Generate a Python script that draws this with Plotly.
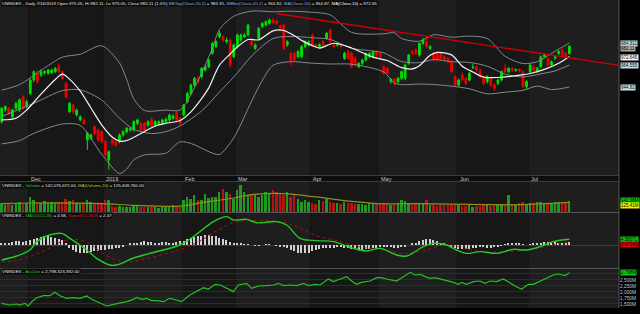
import plotly.graph_objects as go

# ---------------- data ----------------
tick_idx = [8, 29, 51, 66, 87, 106, 128, 148]
tick_text = ["Dec", "2019", "Feb", "Mar", "Apr", "May", "Jun", "Jul"]
month_starts = [0, 8, 29, 51, 66, 87, 106, 128, 148]

opens = [913.2, 924.0, 925.4, 917.8, 925.4, 923.9, 936.0, 926.9, 939.0, 951.2,
         957.3, 955.8, 957.8, 957.3, 958.0, 958.8, 963.3, 958.8, 948.2, 922.3,
         928.4, 919.3, 914.8, 914.8, 896.5, 898.0, 908.7, 905.6, 904.1, 895.0,
         878.3, 896.5, 895.0, 895.0, 901.1, 904.1, 905.6, 905.6, 911.7, 911.7,
         911.7, 910.2, 915.4, 910.2, 911.7, 911.7, 912.9, 914.8, 916.3, 921.4,
         916.3, 919.3, 931.5, 939.0, 946.6, 952.7, 954.2, 960.3, 963.3, 975.5,
         981.6, 990.7, 990.7, 986.1, 987.6, 972.4, 981.6, 987.6, 990.7, 992.2,
         986.1, 980.0, 989.2, 999.8, 1001.3, 1002.8, 1005.9, 1005.0, 1000.4, 1001.3,
         983.1, 975.5, 975.5, 972.4, 972.4, 981.6, 983.1, 992.2, 983.1, 981.6,
         986.1, 989.2, 996.8, 983.1, 983.1, 983.1, 970.9, 977.0, 975.5, 970.9,
         963.3, 966.4, 969.4, 972.4, 972.4, 977.0, 975.5, 963.3, 961.8, 949.7,
         951.8, 949.7, 952.7, 952.7, 966.4, 977.0, 978.5, 974.0, 984.6, 986.1,
         980.0, 975.5, 975.5, 975.5, 972.4, 970.9, 967.9, 954.2, 946.6, 955.8,
         952.7, 951.2, 962.4, 963.3, 960.3, 952.7, 949.7, 952.7, 946.6, 948.2,
         951.2, 961.8, 958.8, 961.8, 960.0, 960.8, 958.8, 945.1, 958.8, 963.3,
         958.8, 963.3, 972.4, 970.9, 964.9, 971.0, 975.5, 978.5, 975.5, 975.05]
highs = [926.5, 928.0, 926.8, 925.0, 931.5, 934.5, 937.5, 933.0, 952.5, 960.0,
         960.5, 961.0, 960.0, 961.5, 961.5, 963.0, 966.0, 960.0, 949.5, 931.0,
         929.5, 925.0, 919.0, 916.0, 904.0, 902.5, 910.0, 907.0, 905.5, 896.5,
         887.0, 898.0, 896.5, 902.5, 905.5, 908.5, 908.5, 914.5, 916.0, 913.0,
         913.0, 914.5, 917.0, 914.5, 914.5, 916.0, 917.0, 920.5, 920.0, 923.0,
         917.5, 929.5, 940.5, 948.0, 954.0, 955.0, 963.0, 964.5, 970.5, 986.0,
         987.5, 996.0, 992.0, 990.0, 989.0, 984.5, 993.5, 993.5, 994.0, 1002.5,
         988.0, 984.5, 999.5, 1004.0, 1005.5, 1007.0, 1007.5, 1006.5, 1001.5, 1002.5,
         987.5, 977.0, 977.0, 978.5, 983.0, 987.5, 987.5, 993.5, 984.5, 984.5,
         987.5, 995.0, 998.0, 984.5, 985.5, 984.0, 977.0, 978.5, 977.0, 972.5,
         967.5, 970.5, 976.5, 976.5, 978.0, 978.5, 977.0, 964.5, 963.0, 953.0,
         953.0, 954.0, 960.0, 966.0, 975.0, 978.5, 980.0, 985.5, 989.5, 990.0,
         983.0, 977.0, 977.0, 977.0, 974.0, 972.0, 969.0, 955.5, 952.5, 958.0,
         954.0, 958.5, 966.0, 964.5, 961.5, 954.0, 955.5, 954.0, 948.0, 952.5,
         960.0, 966.0, 963.0, 963.0, 961.5, 962.0, 960.0, 951.0, 966.0, 964.5,
         963.0, 973.5, 975.5, 972.0, 969.0, 973.5, 978.5, 980.0, 977.0, 982.11]
lows = [911.5, 922.5, 919.5, 916.0, 924.0, 922.0, 924.0, 925.5, 937.5, 949.5,
        947.5, 954.0, 956.0, 956.0, 956.5, 957.5, 957.5, 951.0, 934.5, 921.0,
        920.5, 918.0, 913.5, 910.0, 887.4, 896.5, 901.0, 895.0, 893.5, 881.0,
        869.2, 891.5, 890.0, 893.5, 899.5, 902.5, 904.0, 904.0, 910.0, 904.0,
        904.0, 908.5, 907.5, 908.5, 910.0, 910.0, 911.5, 913.0, 915.0, 913.5,
        910.0, 918.0, 930.0, 937.5, 945.0, 948.0, 952.5, 959.0, 962.0, 974.0,
        980.0, 989.0, 986.0, 984.5, 962.5, 971.0, 980.0, 986.0, 989.5, 991.0,
        981.5, 978.5, 988.0, 998.5, 1000.0, 1001.5, 1002.0, 1001.5, 998.0, 978.5,
        981.5, 964.5, 968.0, 971.0, 971.0, 980.0, 982.0, 982.0, 980.0, 980.5,
        982.0, 988.0, 985.0, 980.0, 981.5, 980.0, 969.5, 969.5, 962.0, 963.5,
        962.0, 965.0, 968.0, 971.0, 971.0, 972.5, 971.0, 956.0, 956.0, 948.0,
        946.0, 948.0, 951.0, 951.0, 965.0, 974.0, 974.0, 972.5, 983.0, 980.0,
        978.5, 968.0, 968.0, 969.5, 968.0, 966.5, 957.5, 945.0, 945.0, 950.0,
        946.5, 950.0, 961.0, 958.5, 952.5, 946.5, 948.0, 945.0, 941.5, 946.5,
        950.0, 957.5, 957.5, 958.5, 958.5, 958.0, 943.5, 943.0, 957.5, 958.5,
        957.5, 962.0, 971.0, 963.5, 963.5, 969.5, 974.0, 972.5, 971.0, 975.05]
closes = [925.4, 927.0, 920.8, 923.9, 929.9, 933.0, 925.4, 931.4, 951.2, 958.8,
          949.7, 958.8, 958.9, 960.3, 960.3, 961.8, 958.8, 952.7, 936.0, 929.9,
          922.3, 923.9, 917.8, 911.7, 902.6, 901.1, 902.6, 896.5, 895.0, 882.9,
          885.9, 893.5, 892.0, 901.1, 904.1, 907.2, 907.2, 913.2, 914.8, 905.6,
          905.6, 913.2, 909.3, 913.2, 913.2, 914.8, 915.4, 919.3, 918.4, 914.8,
          911.7, 928.4, 939.0, 946.6, 952.7, 949.7, 961.8, 963.3, 969.4, 984.6,
          986.1, 993.7, 987.6, 987.6, 964.9, 983.1, 992.2, 992.2, 992.2, 1001.3,
          983.1, 983.1, 998.3, 1002.8, 1004.3, 1005.9, 1003.4, 1002.8, 999.2, 980.0,
          986.1, 967.9, 969.4, 977.0, 981.6, 986.1, 986.1, 983.1, 981.6, 983.6,
          983.1, 993.7, 986.1, 981.6, 984.6, 981.6, 975.5, 970.9, 963.3, 964.9,
          966.4, 969.4, 975.5, 975.5, 977.0, 974.0, 972.4, 957.3, 957.3, 951.8,
          948.2, 952.7, 958.8, 964.9, 974.0, 975.5, 975.5, 984.6, 987.6, 981.6,
          981.6, 969.4, 969.4, 971.0, 969.4, 967.9, 958.8, 946.6, 951.2, 951.2,
          948.2, 957.3, 962.9, 960.3, 954.2, 948.2, 954.2, 946.6, 943.6, 951.2,
          958.8, 958.8, 961.8, 960.3, 960.8, 959.5, 945.1, 949.7, 964.9, 960.3,
          961.8, 972.4, 974.0, 964.9, 967.9, 972.4, 977.0, 974.0, 972.4, 982.11]

ma10_x = [0, 4, 7, 11, 15, 17, 19, 22, 25, 28, 31, 33, 35, 39, 43, 46, 50, 53, 56, 58,
          61, 64, 66, 69, 72, 76, 79, 82, 84, 87, 89, 93, 98, 104, 108, 112, 115, 117, 120, 122,
          126, 129, 132, 135, 140, 145, 148, 152, 156, 159]
ma10_y = [914.8, 916.3, 923.9, 938.3, 951.7, 956.5, 952.0, 941.0, 925.7, 910.3,
          899.0, 895.5, 896.1, 902.5, 909.3, 911.8, 914.3, 922.2, 934.2, 944.0,
          964.7, 974.9, 981.3, 988.1, 987.8, 996.0, 996.3, 991.5, 987.3, 982.5,
          980.3, 984.7, 980.4, 972.0, 969.0, 962.5, 961.3, 964.3, 973.7, 976.4,
          974.1, 963.7, 958.5, 953.9, 953.7, 955.6, 957.1, 960.9, 966.5, 972.65]

bbm_x = [0, 9, 17, 22, 28, 33, 37, 42, 46, 50, 56, 61, 65, 70, 76, 81, 87, 92, 98, 103,
         107, 112, 117, 121, 126, 131, 136, 141, 146, 151, 155, 159]
bbm_y = [918.0, 930.0, 941.5, 942.2, 933.0, 916.4, 906.3, 902.4, 904.2, 909.4,
         923.0, 940.3, 953.9, 973.0, 989.0, 990.9, 989.7, 988.2, 980.1, 978.0,
         975.9, 968.0, 967.0, 969.8, 967.9, 967.2, 963.8, 956.5, 954.0, 956.8,
         959.5, 964.87]

bbt_x = [0, 5, 11, 17, 22, 28, 33, 35, 37, 40, 46, 50, 54, 59, 61, 65, 70, 76, 81, 87,
         92, 98, 107, 110, 112, 117, 121, 126, 131, 136, 141, 146, 150, 154, 159]
bbt_y = [942.0, 947.0, 960.0, 972.0, 974.7, 982.4, 966.8, 951.7, 934.1, 923.4,
         923.8, 923.9, 944.2, 979.8, 997.3, 1009.3, 1014.0, 1013.4, 1013.9, 1012.9,
         1010.6, 994.6, 993.3, 994.3, 989.0, 986.5, 992.5, 990.2, 991.2, 989.0,
         972.8, 966.2, 967.9, 975.5, 984.91]

bbb_x = [0, 5, 9, 17, 22, 28, 33, 35, 37, 40, 46, 50, 54, 56, 59, 61, 65, 70, 73, 76,
         81, 87, 92, 98, 107, 110, 112, 117, 121, 126, 131, 136, 141, 146, 150, 154, 159]
bbb_y = [893.0, 896.0, 902.6, 911.1, 909.8, 883.6, 866.0, 870.1, 878.5, 883.0,
         884.6, 894.9, 892.2, 889.0, 884.6, 883.3, 898.5, 932.0, 950.9, 964.6,
         967.9, 966.5, 965.8, 965.6, 958.5, 948.4, 947.0, 947.5, 947.1, 945.6,
         943.2, 938.6, 940.1, 941.8, 945.7, 942.5, 944.82]

trend_x = [77, 172.9]
trend_y = [1011.8, 964.6]

volume_m = [110, 95, 120, 90, 105, 125, 100, 115,
            200, 150, 135, 120, 140, 110, 125, 115, 130, 120, 172, 140, 150, 110, 100, 120, 160, 125, 115, 105, 120,
            160, 150, 75, 70, 80, 65, 60, 70, 85, 80, 65, 70, 60, 75, 70, 55, 65, 70, 80, 90, 75, 70,
            150, 194, 172, 215, 160, 150, 237, 180, 194, 200, 258, 301, 258, 230, 172,
            280, 344, 258, 215, 237, 215, 194, 220, 258, 237, 280, 258, 237, 215, 258, 194, 215, 172, 129, 150, 129,
            120, 108, 150, 140, 172, 130, 120, 110, 108, 129, 120, 115, 108, 100, 100, 95, 110, 105, 100,
            105, 115, 108, 95, 100, 110, 150, 140, 120, 110, 100, 115, 105, 150, 90, 85, 80, 95, 85, 90, 85, 100,
            95, 80, 75, 85, 70, 80, 75, 90, 85, 80, 95, 90, 100, 85, 215, 100, 95, 110, 130, 105,
            120, 110, 130, 125, 115, 120, 110, 125, 130, 120, 135, 142.08]
vma_x = [0, 9, 28, 37, 50, 56, 65, 70, 79, 88, 98, 105, 117, 135, 145, 159]
vma_y = [108, 116, 108, 86, 77, 120, 181, 224, 237, 194, 138, 108, 108, 95, 95, 125.41]

macd_x = [0, 4.2, 7.9, 9.8, 12.6, 16.8, 19.1, 23.8, 26.6, 30.3, 32.2, 36.9, 41.5, 49.9, 53.7,
          59.3, 63.0, 64.9, 68.6, 71.4, 77.0, 79.8, 83.6, 88.2, 92.9, 98.5, 102.2, 106.0,
          110.6, 113.4, 118.1, 120.9, 124.6, 127.4, 130.2, 134.0, 138.6, 143.3, 147.0,
          150.8, 154.5, 159]
macd_y = [-12.0, -8.8, -4.0, 2.7, 7.2, 9.3, 5.3, -4.0, -10.7, -16.0, -16.0, -10.4, -6.7,
          0.0, 6.7, 18.7, 22.7, 20.0, 20.5, 17.8, 18.7, 16.0, 5.3, 3.5, 2.7, -2.7, -4.8,
          -2.7, -8.0, -8.8, -1.3, 1.3, 0.0, -4.0, -6.7, -5.3, -6.7, -3.5, -4.0, -1.3, 2.7, 4.58]
sig_x = [0, 4, 9, 13, 17, 20, 24, 28, 32, 36, 40, 44, 48, 52, 56, 60, 64, 68, 72, 76, 80,
         84, 88, 95, 100, 107, 113, 119, 124, 128, 134, 141, 148, 154, 159]
sig_y = [-13.5, -12.5, -8.0, -3.0, 3.0, 4.5, 2.0, -6.0, -12.0, -13.5, -11.0, -8.5, -5.5,
         -1.5, 4.0, 11.0, 17.0, 19.5, 19.5, 19.0, 17.5, 13.0, 7.5, 2.7, -1.3, -4.0, -6.7,
         -4.0, 0.0, -1.3, -5.3, -5.3, -3.5, 0.0, 2.47]
hist = [1.5, 2, 2, 2.5, 3, 3, 2.5, 3, 4,
        5, 6, 6.5, 7, 7, 6.5, 6, 5, 4,
        1, -2, -4, -5.5, -6.5, -6.5, -6, -5.5, -5, -4.5,
        -4, -4, -3.5, -3, -2.5, -2, -1, 0,
        1, 1.5, 2, 2.5, 3, 2.5, 2.5, 2, 2, 2.5, 2.5, 2, 2, 2.5, 3,
        3.5, 4.5, 5.5, 6.5, 7, 7.5, 8, 8, 7.5, 7, 6, 5, 4, 2.5, 1.5,
        1, 1, 0.5, 0.5, 0, -0.5, -0.5, 0, 0.5, 0.5, 0, -0.5, -1, -1.5,
        -2.5, -4, -5, -6, -6.5, -6.5, -6, -5, -4,
        -3, -2.5, -2, -2, -2, -1.5, -1.5, -2, -2.5, -3,
        -3.5, -4, -4, -3.5, -3, -2.5, -2,
        -1.5, -1.5, -1, -1.5, -2, -2, -1.5, -1, 0, 1, 2,
        3, 4, 4.5, 4.5, 4, 3, 2,
        1, 0, -1,
        -2, -3, -3.5, -3.5, -3, -2.5, -2, -1.5, -1.5, -2, -2, -1.5, -1,
        -0.5, 0.5, 1, 1.5, 1.5, 1, 0.5, 0, 0.5,
        1, 1.5, 2, 2.5, 2.5, 2.5, 2.5, 2, 2, 2, 2.11]

ad_x = [0, 1.4, 2.3, 4.2, 5.1, 6.5, 7.5, 8.4, 9.8, 11.7, 13.5, 14.9, 16.3, 18.2, 20.1, 21.9,
        23.8, 25.2, 27.5, 29.4, 31.3, 33.1, 35.0, 36.9, 37.8, 39.2, 40.6, 42.0, 43.4, 45.3,
        47.1, 49.0, 50.4, 52.7, 54.6, 56.5, 57.9, 59.7, 61.2, 64.0, 64.9, 66.3, 68.6, 70.0,
        71.9, 74.2, 76.1, 77.5, 78.9, 80.8, 82.6, 84.5, 85.9, 87.8, 89.2, 91.5, 92.9, 94.8,
        96.6, 98.0, 99.4, 100.8, 103.2, 105.0, 106.4, 107.8, 110.6, 112.5, 114.4, 115.8,
        117.2, 118.6, 120.0, 121.4, 122.8, 124.6, 126.5, 127.9, 128.8, 130.2, 132.1, 134.0,
        135.4, 136.8, 138.6, 140.5, 142.4, 144.2, 145.6, 147.5, 148.9, 150.8, 152.6, 154.5,
        155.9, 157.8, 159.0]
ad_y = [1529, 1487, 1458, 1500, 1458, 1529, 1417, 1596, 1763, 1846, 1846, 1986, 1846, 1736,
        1763, 1736, 1833, 1694, 1529, 1417, 1487, 1529, 1596, 1694, 1778, 1694, 1736, 1639,
        1639, 1596, 1736, 1667, 1596, 1875, 2014, 2181, 2111, 2319, 2292, 2083, 2014, 2292,
        2361, 2153, 2250, 2264, 2292, 2361, 2264, 2292, 2264, 2361, 2264, 2319, 2292, 2542,
        2431, 2542, 2639, 2458, 2319, 2403, 2458, 2597, 2597, 2542, 2458, 2639, 2819, 2708,
        2736, 2639, 2569, 2597, 2542, 2500, 2403, 2319, 2403, 2319, 2431, 2458, 2361, 2458,
        2431, 2542, 2361, 2222, 2111, 2319, 2319, 2458, 2597, 2708, 2750, 2681, 2798.32]
ad_ticks = [1500, 1750, 2000, 2250, 2500, 2750]
ad_ticktext = ["1,500M", "1,750M", "2,000M", "2,250M", "2,500M", ""]

# ---------------- styling ----------------
W, H = 640, 314
def fy(px):
    return 1 - px / H

XR = [-0.476, 172.9]
XD = 619 / W
UP, DN = "#00e000", "#ee0000"
VUP, VDN = "#1f9a1f", "#b41414"
BB = "#7d8c8c"
FONT = "Liberation Sans, Arial, sans-serif"

days = list(range(len(closes)))
vol_colors = [VUP if c >= o else VDN for o, c in zip(opens, closes)]

fig = go.Figure()
for bx, by in [(bbt_x, bbt_y), (bbm_x, bbm_y), (bbb_x, bbb_y)]:
    fig.add_trace(go.Scatter(x=bx, y=by, mode="lines", line=dict(color=BB, width=1, shape="spline", smoothing=0.8),
                             xaxis="x", yaxis="y", hoverinfo="skip"))
fig.add_trace(go.Candlestick(x=days, open=opens, high=highs, low=lows, close=closes,
                             increasing=dict(line=dict(color=UP, width=1), fillcolor=UP),
                             decreasing=dict(line=dict(color=DN, width=1), fillcolor=DN),
                             whiskerwidth=0, xaxis="x", yaxis="y", hoverinfo="skip"))
fig.add_trace(go.Scatter(x=ma10_x, y=ma10_y, mode="lines", line=dict(color="#f2f2f2", width=1.2, shape="spline", smoothing=0.8),
                         xaxis="x", yaxis="y", hoverinfo="skip"))
fig.add_trace(go.Scatter(x=trend_x, y=trend_y, mode="lines", line=dict(color="#d00000", width=1.3),
                         xaxis="x", yaxis="y", hoverinfo="skip"))

# volume
fig.add_trace(go.Bar(x=days, y=volume_m, marker=dict(color=vol_colors, line=dict(width=0)), width=0.55,
                     xaxis="x", yaxis="y2", hoverinfo="skip"))
fig.add_trace(go.Scatter(x=vma_x, y=vma_y, mode="lines", line=dict(color="#8f8f1c", width=1.2, shape="spline"),
                         xaxis="x", yaxis="y2", hoverinfo="skip"))

# MACD
fig.add_trace(go.Bar(x=days, y=hist, marker=dict(color="#cfcfcf", line=dict(width=0)), width=0.4,
                     xaxis="x", yaxis="y3", hoverinfo="skip"))
fig.add_trace(go.Scatter(x=sig_x, y=sig_y, mode="lines", line=dict(color="#b01010", width=1, dash="dot", shape="spline"),
                         xaxis="x", yaxis="y3", hoverinfo="skip"))
fig.add_trace(go.Scatter(x=macd_x, y=macd_y, mode="lines", line=dict(color="#22cc22", width=1.4, shape="spline"),
                         xaxis="x", yaxis="y3", hoverinfo="skip"))

# AccDist
fig.add_trace(go.Scatter(x=ad_x, y=ad_y, mode="lines", line=dict(color="#22c322", width=1.2),
                         xaxis="x", yaxis="y4", hoverinfo="skip"))

# ---------------- shapes ----------------
shapes = []
band_cols = ["#1e1e1e", "#171717"]
edges = [s - 0.5 for s in month_starts] + [XR[1]]
edges[0] = XR[0]
for k in range(len(month_starts)):
    col = band_cols[k % 2]
    for yr in ["y domain", "y2 domain", "y3 domain", "y4 domain"]:
        shapes.append(dict(type="rect", xref="x", yref=yr, x0=edges[k], x1=edges[k + 1], y0=0, y1=1,
                           fillcolor=col, line=dict(width=0), layer="below"))
shapes.append(dict(type="rect", xref="paper", yref="paper", x0=0, x1=XD, y0=fy(182), y1=fy(175),
                   fillcolor="#0d0d0d", line=dict(width=0), layer="below"))
for ypx_, c in [(175.5, "#3c3c3c"), (181.5, "#3c3c3c"), (212.5, "#555555"), (268.5, "#555555")]:
    shapes.append(dict(type="line", xref="paper", yref="paper", x0=0, x1=XD, y0=fy(ypx_), y1=fy(ypx_),
                       line=dict(color=c, width=1), layer="below"))
shapes.append(dict(type="line", xref="paper", yref="paper", x0=XD, x1=XD, y0=fy(308), y1=1,
                   line=dict(color="#555555", width=1)))

# ---------------- annotations ----------------
ann = []
for xi, t in zip(tick_idx, tick_text):
    ann.append(dict(x=xi - 0.3, y=fy(178.5), xref="x", yref="paper", text=t, showarrow=False,
                    xanchor="left", yanchor="middle", font=dict(size=5.5, color="#c8c8c8", family=FONT)))

hdr_font = dict(size=4.4, color="#e6e6e6", family=FONT)
ann.append(dict(x=0.002, y=fy(4), xref="paper", yref="paper", showarrow=False, xanchor="left", yanchor="middle",
                bgcolor="#0c0c0c", borderpad=0, font=hdr_font,
                text="VNINDEX - Daily 7/16/2019 Open 975.05, Hi 982.11, Lo 975.05, Close 982.11 (1.0%) "
                     "<span style='color:#8fb0e8'>BBTop(Close,20,2)</span> = 984.91, "
                     "<span style='color:#8fb0e8'>BBBot(Close,20,2)</span> = 944.82, "
                     "<span style='color:#8fb0e8'>MA(Close,20)</span> = 964.87, "
                     "<span style='color:#ffffff'>MA(Close,10)</span> = 972.65"))
ann.append(dict(x=0.002, y=fy(185), xref="paper", yref="paper", showarrow=False, xanchor="left", yanchor="middle",
                bgcolor="#0c0c0c", borderpad=0, font=hdr_font,
                text="VNINDEX - <span style='color:#22cc22'>Volume</span> = 142,076,672.00, "
                     "<span style='color:#c8c832'>MA(Volume,20)</span> = 125,408,760.00"))
ann.append(dict(x=0.002, y=fy(215.5), xref="paper", yref="paper", showarrow=False, xanchor="left", yanchor="middle",
                bgcolor="#0c0c0c", borderpad=0, font=hdr_font,
                text="VNINDEX - <span style='color:#22cc22'>MACD(12,26)</span> = 4.58, "
                     "<span style='color:#e02020'>Signal(12,26,9)</span> = 2.47"))
ann.append(dict(x=0.002, y=fy(271), xref="paper", yref="paper", showarrow=False, xanchor="left", yanchor="middle",
                bgcolor="#0c0c0c", borderpad=0, font=hdr_font,
                text="VNINDEX - <span style='color:#22cc22'>AccDist</span> = 2,798,323,392.00"))

lab_font = dict(size=4.5, color="#000000", family=FONT)
value_labels = [
    ("y", 984.91, "984.911", "#c4e2e6", 0),
    ("y", 982.11, "982.11", "#a8a8a8", -2),
    ("y", 972.65, "972.645", "#f4f4f4", -1),
    ("y", 964.555, "964.555", "#c4e2e6", 0),
    ("y", 944.82, "944.82", "#c4e2e6", 0),
    ("y2", 142.08, "142.08M", "#10c810", 0),
    ("y2", 125.41, "125.41M", "#f0f000", -3),
    ("y3", 4.58, "4.58071", "#10c810", 0),
    ("y3", 2.47, "2.47349", "#e00000", -3),
    ("y4", 2798.32, "2,798M", "#10c810", 0),
]
for yr, v, t, bg, ys in value_labels:
    ann.append(dict(x=XD + 0.002, y=v, xref="paper", yref=yr, text=t, showarrow=False, xanchor="left",
                    yanchor="middle", bgcolor=bg, borderpad=0, yshift=ys, font=lab_font))

fig.update_layout(
    width=W, height=H, margin=dict(l=0, r=0, t=0, b=0),
    paper_bgcolor="#000000", plot_bgcolor="rgba(0,0,0,0)", showlegend=False,
    barmode="overlay", bargap=0,
    xaxis=dict(domain=[0, XD], range=XR, visible=False, rangeslider=dict(visible=False), fixedrange=True),
    yaxis=dict(domain=[fy(175), 1], range=[864.65, 1024.1], visible=False, anchor="x"),
    yaxis2=dict(domain=[fy(212), fy(182)], range=[0, 387], visible=False, anchor="x"),
    yaxis3=dict(domain=[fy(268), fy(213)], range=[-18.4, 25.6], showticklabels=False, showgrid=False,
                zeroline=True, zerolinecolor="#3a3a3a", zerolinewidth=1, anchor="x"),
    yaxis4=dict(domain=[fy(308), fy(269)], range=[1333, 2958], side="right", anchor="x",
                tickvals=ad_ticks, ticktext=ad_ticktext, showgrid=True, gridcolor="#2c2c2c", gridwidth=1,
                zeroline=False, ticks="", tickfont=dict(size=4.8, color="#c8c8c8", family=FONT)),
    shapes=shapes, annotations=ann,
)

fig.write_html("out.html")
